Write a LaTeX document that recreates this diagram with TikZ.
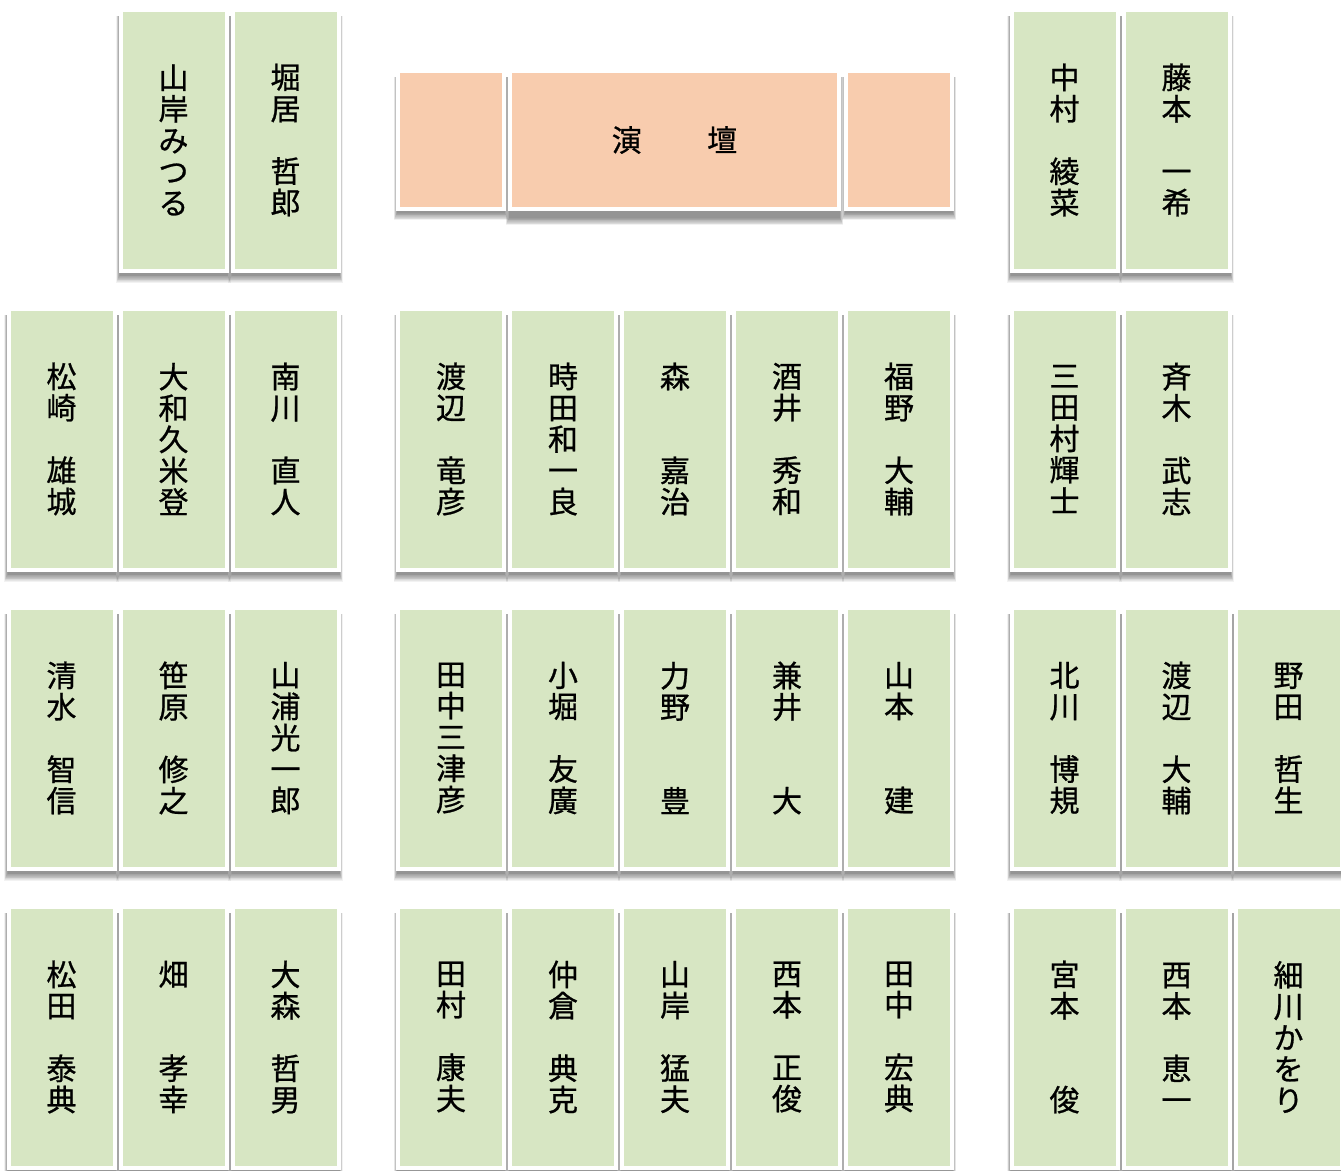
\documentclass[tikz,border=0pt]{standalone}
\usepackage{fontspec}
\newfontfamily\cjk[FakeBold=0.8]{Noto Sans CJK JP}
\pgfdeclarelayer{bg}
\pgfsetlayers{bg,main}
\definecolor{seatgreen}{RGB}{215,230,195}
\definecolor{stageorange}{RGB}{248,204,174}
\tikzset{
  seat/.style={rectangle, fill=seatgreen, draw=white, line width=4pt,
    minimum width=106pt, minimum height=261pt, inner sep=0pt, align=center,
    font=\cjk\fontsize{30}{31.3}\selectfont, text=black},
  stagebox/.style={rectangle, fill=stageorange, draw=white, line width=4pt,
    minimum height=138pt, inner sep=0pt,
    font=\cjk\fontsize{30}{31.3}\selectfont, text=black},
}
\newcommand\dropshade[2]{%
  \begin{pgfonlayer}{bg}
  \foreach \k in {0,...,9}{
    \fill[black,opacity=0.05]
      ([xshift={1pt-\k*0.35pt}, yshift={-#2-\k*0.8pt}]#1.south west)
      rectangle ([xshift={-1pt+\k*0.35pt}, yshift={-8pt}]#1.north east);
  }
  \end{pgfonlayer}}
\newcommand\seat[4]{%
  \node[seat] (#1) at (#2,#3) {#4};
  \dropshade{#1}{3pt}}
\begin{document}
\begin{tikzpicture}[x=1pt,y=-1pt]
\begin{pgfonlayer}{bg}
\fill[white] (0,0) rectangle (1341,1170);
\end{pgfonlayer}
\useasboundingbox (0,0) rectangle (1341,1170);

% stage
\node[stagebox, minimum width=106pt] (stL) at (451,140) {};
\dropshade{stL}{2pt}
\node[stagebox, minimum width=329pt] (stC) at (674.5,140) {演\hspace{65.5pt}壇};
\dropshade{stC}{7pt}
\node[stagebox, minimum width=106pt] (stR) at (899,140) {};
\dropshade{stR}{2pt}

% row 1
\seat{a2}{173.5}{140}{山\\岸\\み\\つ\\る}
\seat{a3}{285.5}{140}{堀\\居\\　\\哲\\郎}
\seat{a9}{1064.5}{140}{中\\村\\　\\綾\\菜}
\seat{a10}{1176.5}{140}{藤\\本\\　\\一\\希}

% row 2
\seat{b1}{61.5}{439}{松\\崎\\　\\雄\\城}
\seat{b2}{173.5}{439}{大\\和\\久\\米\\登}
\seat{b3}{285.5}{439}{南\\川\\　\\直\\人}
\seat{b4}{451}{439}{渡\\辺\\　\\竜\\彦}
\seat{b5}{563}{439}{時\\田\\和\\一\\良}
\seat{b6}{675}{439}{森\\　\\　\\嘉\\治}
\seat{b7}{787}{439}{酒\\井\\　\\秀\\和}
\seat{b8}{899}{439}{福\\野\\　\\大\\輔}
\seat{b9}{1064.5}{439}{三\\田\\村\\輝\\士}
\seat{b10}{1176.5}{439}{斉\\木\\　\\武\\志}

% row 3
\seat{c1}{61.5}{738}{清\\水\\　\\智\\信}
\seat{c2}{173.5}{738}{笹\\原\\　\\修\\之}
\seat{c3}{285.5}{738}{山\\浦\\光\\一\\郎}
\seat{c4}{451}{738}{田\\中\\三\\津\\彦}
\seat{c5}{563}{738}{小\\堀\\　\\友\\廣}
\seat{c6}{675}{738}{力\\野\\　\\　\\豊}
\seat{c7}{787}{738}{兼\\井\\　\\　\\大}
\seat{c8}{899}{738}{山\\本\\　\\　\\建}
\seat{c9}{1064.5}{738}{北\\川\\　\\博\\規}
\seat{c10}{1176.5}{738}{渡\\辺\\　\\大\\輔}
\seat{c11}{1288.5}{738}{野\\田\\　\\哲\\生}

% row 4
\seat{d1}{61.5}{1037}{松\\田\\　\\泰\\典}
\seat{d2}{173.5}{1037}{畑\\　\\　\\孝\\幸}
\seat{d3}{285.5}{1037}{大\\森\\　\\哲\\男}
\seat{d4}{451}{1037}{田\\村\\　\\康\\夫}
\seat{d5}{563}{1037}{仲\\倉\\　\\典\\克}
\seat{d6}{675}{1037}{山\\岸\\　\\猛\\夫}
\seat{d7}{787}{1037}{西\\本\\　\\正\\俊}
\seat{d8}{899}{1037}{田\\中\\　\\宏\\典}
\seat{d9}{1064.5}{1037}{宮\\本\\　\\　\\俊}
\seat{d10}{1176.5}{1037}{西\\本\\　\\恵\\一}
\seat{d11}{1288.5}{1037}{細\\川\\か\\を\\り}
\end{tikzpicture}
\end{document}
